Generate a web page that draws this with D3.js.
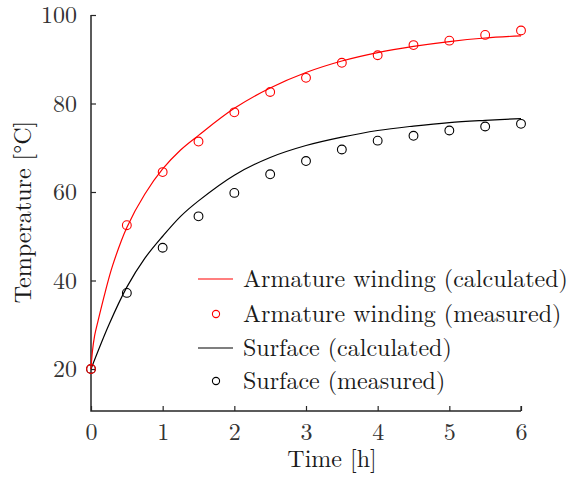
<!DOCTYPE html>
<html><head><meta charset="utf-8">
<script src="https://cdn.jsdelivr.net/npm/d3@7"></script>
<style>body{margin:0;background:#fff}svg{display:block}</style>
</head><body>
<svg id="c" width="575" height="477"></svg>
<script>
const xTicks = [0,1,2,3,4,5,6];
const yTicks = [20,40,60,80,100];
const measTime = [0,0.5,1,1.5,2,2.5,3,3.5,4,4.5,5,5.5,6];
const armatureMeasured = [20,52.5,64.5,71.4,78,82.6,85.8,89.2,90.9,93.2,94.2,95.5,96.5];
const surfaceMeasured  = [20,37.2,47.4,54.5,59.8,64,67,69.6,71.6,72.7,73.9,74.8,75.4];
const calcTimeA = [0,0.02,0.05,0.1,0.2,0.3,0.5,0.75,1,1.25,1.5,2,2.5,3,3.5,4,4.5,5,5.5,6];
const armatureCalc = [20,24,27.5,31,37.5,43.3,52,59.5,65.2,69.5,72.8,78.9,83.5,87,89.6,91.5,92.9,94,94.8,95.3];
const calcTimeS = [0,0.25,0.5,0.75,1,1.25,1.5,2,2.5,3,3.5,4,4.5,5,5.5,6];
const surfaceCalc = [20,30,38.5,45,50,54.5,58,63.8,67.8,70.5,72.4,73.9,74.9,75.7,76.2,76.6];
const legendLabels = ["Armature winding (calculated)","Armature winding (measured)","Surface (calculated)","Surface (measured)"];

const FONT = '"Latin Modern Roman", "Liberation Serif", serif';
const svg = d3.select("#c");
const x = d3.scaleLinear().domain([0,6]).range([91,521]);
const y = d3.scaleLinear().domain([20,100]).range([369,15]);
const yBottom = 411;

const axisColor = "#262626";
const gx = svg.append("g").attr("transform",`translate(0,${yBottom})`)
  .call(d3.axisBottom(x).tickValues(xTicks).tickSize(-5).tickPadding(12).tickFormat(d3.format("d")));
const gy = svg.append("g").attr("transform",`translate(91,0)`)
  .call(d3.axisLeft(y).tickValues(yTicks).tickSize(-5).tickPadding(14).tickFormat(d3.format("d")));
[gx,gy].forEach(g=>{
  g.select(".domain").remove();
  g.selectAll(".tick line").attr("stroke",axisColor).attr("stroke-width",1.2);
  g.selectAll(".tick text").style("font-family",FONT).style("font-size","24px").attr("fill","#333");
});
gx.selectAll(".tick text").attr("dy","0.7em");
gy.selectAll(".tick text").attr("dy","0.33em");
svg.append("path").attr("d",`M91,${y(100)}V${yBottom}H${x(6)}`)
  .attr("fill","none").attr("stroke",axisColor).attr("stroke-width",1.5);
svg.append("line").attr("x1",x(6)).attr("x2",x(6)).attr("y1",yBottom).attr("y2",yBottom-5)
  .attr("stroke",axisColor).attr("stroke-width",1.2);

const line = d3.line().curve(d3.curveCatmullRom.alpha(0.5));
svg.append("path").attr("d", line(calcTimeS.map((t,i)=>[x(t),y(surfaceCalc[i])])))
  .attr("fill","none").attr("stroke","#000").attr("stroke-width",1.2);
svg.append("path").attr("d", line(calcTimeA.map((t,i)=>[x(t),y(armatureCalc[i])])))
  .attr("fill","none").attr("stroke","#ff0000").attr("stroke-width",1.2);

svg.append("g").selectAll("circle").data(measTime).join("circle")
  .attr("cx",d=>x(d)).attr("cy",(d,i)=>y(surfaceMeasured[i])).attr("r",4.4)
  .attr("fill","none").attr("stroke","#000").attr("stroke-width",1.1);
svg.append("g").selectAll("circle").data(measTime).join("circle")
  .attr("cx",d=>x(d)).attr("cy",(d,i)=>y(armatureMeasured[i])).attr("r",4.4)
  .attr("fill","none").attr("stroke","#ff0000").attr("stroke-width",1.1);

const legY = [279,314,348,381];
const legColor = ["#ff0000","#ff0000","#000","#000"];
const leg = svg.append("g");
legendLabels.forEach((lab,i)=>{
  if(i%2===0){
    leg.append("line").attr("x1",198).attr("x2",233).attr("y1",legY[i]).attr("y2",legY[i])
      .attr("stroke",legColor[i]).attr("stroke-width",1.2);
  } else {
    leg.append("circle").attr("cx",216).attr("cy",legY[i]).attr("r",3.6)
      .attr("fill","none").attr("stroke",legColor[i]).attr("stroke-width",1.1);
  }
  leg.append("text").attr("x",243).attr("y",legY[i]).attr("dy","0.33em")
    .style("font-family",FONT).style("font-size","24px").attr("fill","#1a1a1a").text(lab);
});

svg.append("text").attr("x",332).attr("y",467).attr("text-anchor","middle")
  .style("font-family",FONT).style("font-size","24px").attr("fill","#1a1a1a").text("Time [h]");
svg.append("text").attr("transform","translate(31,212) rotate(-90)").attr("text-anchor","middle")
  .style("font-family",FONT).style("font-size","24px").attr("fill","#1a1a1a").text("Temperature [°C]");
</script>
</body></html>
